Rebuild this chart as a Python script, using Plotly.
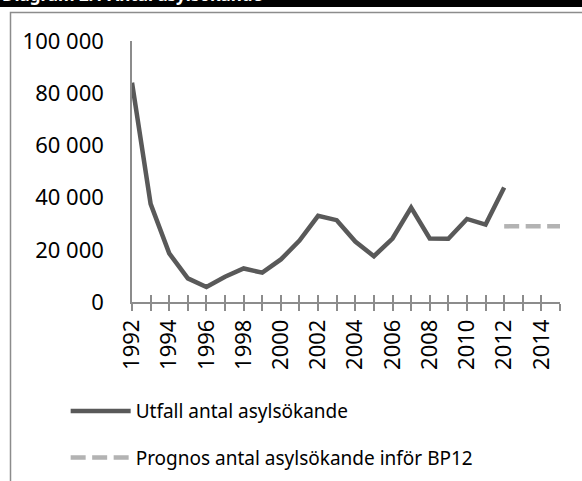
import plotly.graph_objects as go

title_text = "Diagram 2.1 Antal asylsökande"

years_utfall = [1992, 1993, 1994, 1995, 1996, 1997, 1998, 1999, 2000, 2001, 2002,
                2003, 2004, 2005, 2006, 2007, 2008, 2009, 2010, 2011, 2012]
utfall = [84018, 37581, 18640, 9047, 5753, 9662, 12844, 11231, 16303, 23515, 33016,
          31355, 23161, 17530, 24322, 36207, 24353, 24194, 31819, 29648, 43887]

years_prognos = [2012, 2013, 2014, 2015]
prognos = [29000, 29000, 29000, 29000]

tick_years = list(range(1992, 2016))
tick_labels = [str(y) if y % 2 == 0 else "" for y in tick_years]
y_ticks = [0, 20000, 40000, 60000, 80000, 100000]

name_utfall = "Utfall antal asylsökande"
name_prognos = "Prognos antal asylsökande inför BP12"

FONT = "Noto Sans"
AX = "#8c8c8c"

fig = go.Figure()
fig.add_trace(go.Scatter(x=years_utfall, y=utfall, mode="lines", name=name_utfall,
                         line=dict(color="#595959", width=4.5), legendgroup="a"))
fig.add_trace(go.Scatter(x=years_prognos, y=prognos, mode="lines", name=name_prognos,
                         line=dict(color="#b3b3b3", width=4.5, dash="15px,6.5px"),
                         legendgroup="b"))
# invisible trace to carry the inner tick axis
fig.add_trace(go.Scatter(x=[tick_years[0]], y=[0], xaxis="x2", mode="markers",
                         marker=dict(opacity=0), showlegend=False, hoverinfo="skip"))

W, H = 582, 481
L, R, T, B = 132, 22, 41, 179

fig.update_layout(
    width=W, height=H,
    margin=dict(l=L, r=R, t=T, b=B, autoexpand=False),
    paper_bgcolor="white", plot_bgcolor="white",
    separators=", ",
    font=dict(family=FONT, size=19, color="black"),
    showlegend=True,
    legend=dict(x=-0.155, y=-0.345, xanchor="left", yanchor="top",
                font=dict(family=FONT, size=19), tracegroupgap=19,
                itemwidth=60,
                traceorder="grouped", bgcolor="rgba(0,0,0,0)"),
    xaxis=dict(range=[1992, 2015], tickmode="array", tickvals=tick_years,
               ticktext=tick_labels, tickangle=-90, showgrid=False, zeroline=False,
               showline=True, linecolor=AX, linewidth=1.5, automargin=False,
               ticks="outside", ticklen=7, tickcolor=AX, tickwidth=1.5,
               tickfont=dict(family=FONT, size=22)),
    xaxis2=dict(range=[1992, 2015], overlaying="x", anchor="y", side="bottom",
                tickmode="array", tickvals=tick_years, showticklabels=False,
                showgrid=False, zeroline=False, showline=False, automargin=False,
                ticks="inside", ticklen=7, tickcolor=AX, tickwidth=1.5),
    yaxis=dict(range=[0, 100000], tickmode="array", tickvals=y_ticks,
               tickformat=",.0f", showgrid=False, zeroline=False, automargin=False,
               showline=True, linecolor=AX, linewidth=1.5, ticks="",
               ticklabelstandoff=22, tickfont=dict(family=FONT, size=22)),
)

pw = W - L - R
ph = H - T - B
def px_x(p):
    return (p - L) / pw
def px_y(p):
    return (H - B - p) / ph

fig.add_shape(type="rect", xref="paper", yref="paper",
              x0=px_x(-5), x1=px_x(W + 5), y0=px_y(7), y1=px_y(-5),
              fillcolor="black", line=dict(width=0), layer="above")
fig.add_shape(type="rect", xref="paper", yref="paper",
              x0=px_x(10.5), x1=px_x(W + 20), y0=px_y(H + 20), y1=px_y(12.5),
              fillcolor="rgba(0,0,0,0)", line=dict(color=AX, width=1.5), layer="above")
fig.add_annotation(text="<b>" + title_text + "</b>", xref="paper", yref="paper",
                   x=px_x(0), y=px_y(7.5), xanchor="left", yanchor="bottom",
                   showarrow=False, font=dict(family=FONT, size=17, color="white"))

fig.write_html("out.html", config={"displayModeBar": False},
               post_script="document.body.style.margin='0';document.body.style.overflow='hidden';")
